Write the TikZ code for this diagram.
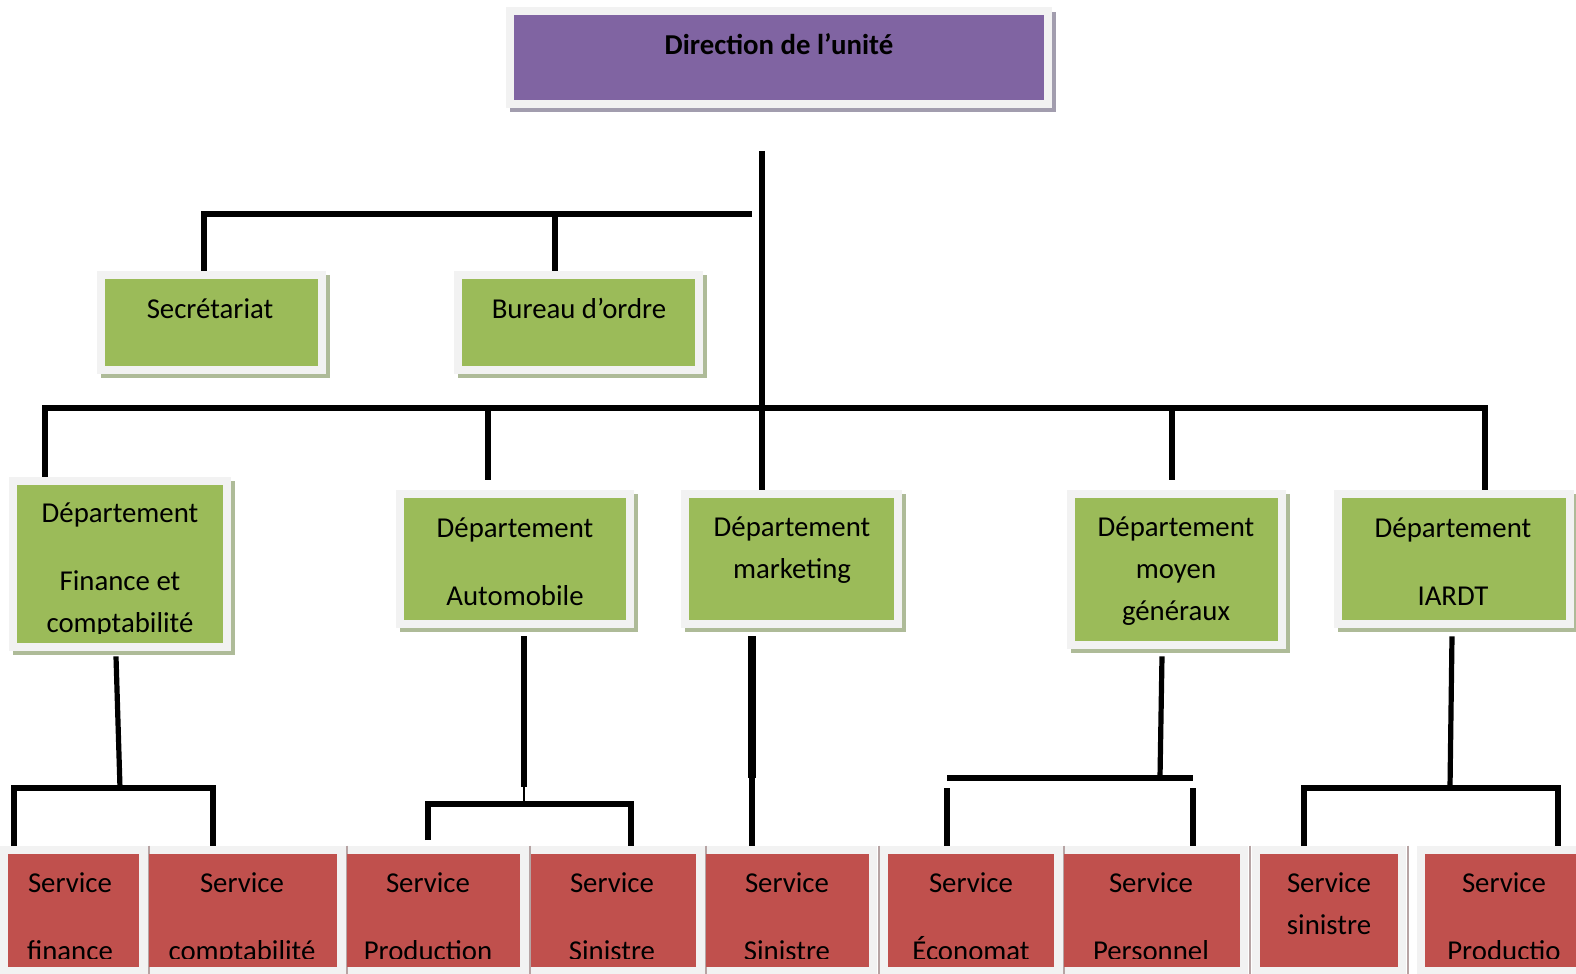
\documentclass[tikz,border=0pt]{standalone}
\usepackage{fontspec}
\setmainfont{Carlito}
\usetikzlibrary{positioning,fit}
\definecolor{violetdir}{HTML}{8064A2}
\definecolor{vertdep}{HTML}{9BBB59}
\definecolor{rougeserv}{HTML}{C0504D}
\definecolor{fondcadre}{HTML}{F2F2F2}
\definecolor{ombreP}{HTML}{A29DAE}
\definecolor{ombreV}{HTML}{AEBB98}
\definecolor{ombreR}{HTML}{B7A4A4}
\tikzset{
  lien/.style={line width=2.6pt},
  cadre/.style={fill=fondcadre, inner sep=4pt},
  txt/.style={font=\fontsize{14.4}{21}\selectfont, align=center, inner sep=0pt,
    anchor=north, yshift=9.8pt},
}
\def\services{1/8/139/70/{Service\\[13pt]finance}, 2/149/337/242/{Service\\[13pt]comptabilité},
  3/347/520/428/{Service\\[13pt]Production}, 4/531/696/612/{Service\\[13pt]Sinistre},
  5/706/869/787/{Service\\[13pt]Sinistre}, 6/888/1054/971/{Service\\[13pt]Économat},
  7/1064/1240/1151/{Service\\[13pt]Personnel}, 8/1260/1398/1329/{Service\\sinistre},
  9/1425/1582/1504/{Service\\[13pt]Productio}}

\begin{document}
\begin{tikzpicture}[x=0.5pt,y=-0.5pt]
\path[use as bounding box, clip] (0,0) rectangle (1576,974);

% direction
\fill[ombreP] (510,12) rectangle (1056,112);
\node[cadre, fit={(514,15) (1044,100)}] (dir) {};
\fill[violetdir] (514,15) rectangle (1044,100);
\node[txt] (dir-t) at (779,44) {\strut\bfseries Direction de l’unité};

% departements
\foreach \nm/\xa/\ya/\xb/\yb in {sec/105/279/318/366, bur/462/279/695/366,
  fin/17/485/223/643, aut/404/498/626/620, mkt/689/498/894/620,
  moy/1075/498/1278/641, iar/1342/498/1566/620}{
  \fill[ombreV] ({\xa-4},{\ya-4}) rectangle ({\xb+12},{\yb+12});
  \node[cadre, fit={(\xa,\ya) (\xb,\yb)}] (\nm) {};
  \fill[vertdep] (\xa,\ya) rectangle (\xb,\yb);
}
\node[txt] (sec-t) at (210,308) {\strut Secrétariat};
\node[txt] (bur-t) at (579,308) {\strut Bureau d’ordre};
\begin{scope}
  \clip (17,485) rectangle (223,633);
  \node[txt] (fin-t) at (120,512) {\strut Département\\[13pt]Finance et\\comptabilité};
\end{scope}
\node[txt] (aut-t) at (515,527) {\strut Département\\[13pt]Automobile};
\node[txt] (mkt-t) at (792,526) {\strut Département\\marketing};
\node[txt] (moy-t) at (1176,526) {\strut Département\\moyen\\généraux};
\node[txt] (iar-t) at (1453,527) {\strut Département\\[13pt]IARDT};

% services
\foreach \i/\xa/\xb/\xt/\lab in \services
  \node[cadre, fit={(\xa,854) (\xb,967)}] (s\i) {};
\foreach \i/\xa/\xb/\xt/\lab in \services{
  \draw[ombreR, line width=1pt] ([xshift=1pt]s\i.north east) -- ([xshift=1pt]s\i.south east);
  \fill[rougeserv] (\xa,854) rectangle (\xb,967);
}
\begin{scope}
  \clip (0,0) rectangle (1576,958);
  \foreach \i/\xa/\xb/\xt/\lab in \services
    \node[txt] (s\i-t) at (\xt,882) {\strut\lab};
\end{scope}

% liens du haut
\coordinate (tronc) at (762,151);
\draw[lien] (tronc) -- (tronc |- mkt.north);
\coordinate (hg) at (204,214);
\coordinate (hd) at (752,214);
\coordinate (hm) at (555,214);
\draw[lien] (sec.north -| hg) -- (hg) -- (hd);
\draw[lien] (hm) -- (hm |- bur.north);

% barre des departements
\coordinate (bg) at (45,408);
\coordinate (bd) at (1485,408);
\draw[lien] (fin.north -| bg) -- (bg) -- (bd) -- (bd |- iar.north);
\coordinate (ba) at (488,408);
\coordinate (bm) at (1172,408);
\draw[lien] (ba) -- ++(0,72);
\draw[lien] (bm) -- ++(0,72);

% finance
\coordinate (fj) at (120,788);
\coordinate (fg) at (14,788);
\coordinate (fd) at (213,788);
\draw[lien] ([shift={(-2pt,-2.5pt)}]fin.south) -- (fj);
\draw[lien] (s1.north -| fg) -- (fg) -- (fd) -- (fd |- s2.north);

% automobile
\coordinate (aj) at (524,787);
\coordinate (ag) at (428,804);
\coordinate (ad) at (631,804);
\coordinate (ag0) at (428,840);
\draw[lien] ([shift={(4.5pt,-4pt)}]aut.south) -- (aj);
\draw[line width=0.6pt] (aj) -- ++(0,15);
\draw[lien] (ag0) -- (ag) -- (ad) -- (ad |- s4.north);

% marketing
\coordinate (mj) at (752,778);
\draw[lien, line width=3.8pt] ([shift={(-19.75pt,-4pt)}]mkt.south) -- (mj);
\draw[lien] (mj) -- (mj |- s5.north);

% moyen generaux
\coordinate (yj) at (1160,778);
\coordinate (yg) at (947,788);
\coordinate (yd) at (1193,788);
\draw[lien] ([shift={(-7.25pt,-3.5pt)}]moy.south) -- (yj);
\draw[lien] ([yshift=5pt]yg) -- ([yshift=5pt]yd);
\draw[lien] (yg) -- (yg |- s6.north);
\draw[lien] (yd) -- (yd |- s7.north);

% IARDT
\coordinate (ij) at (1450,788);
\coordinate (ig) at (1304,788);
\coordinate (id) at (1558,788);
\draw[lien] ([shift={(-1pt,-4pt)}]iar.south) -- (ij);
\draw[lien] (s8.north -| ig) -- (ig) -- (id) -- (id |- s9.north);
\end{tikzpicture}
\end{document}
